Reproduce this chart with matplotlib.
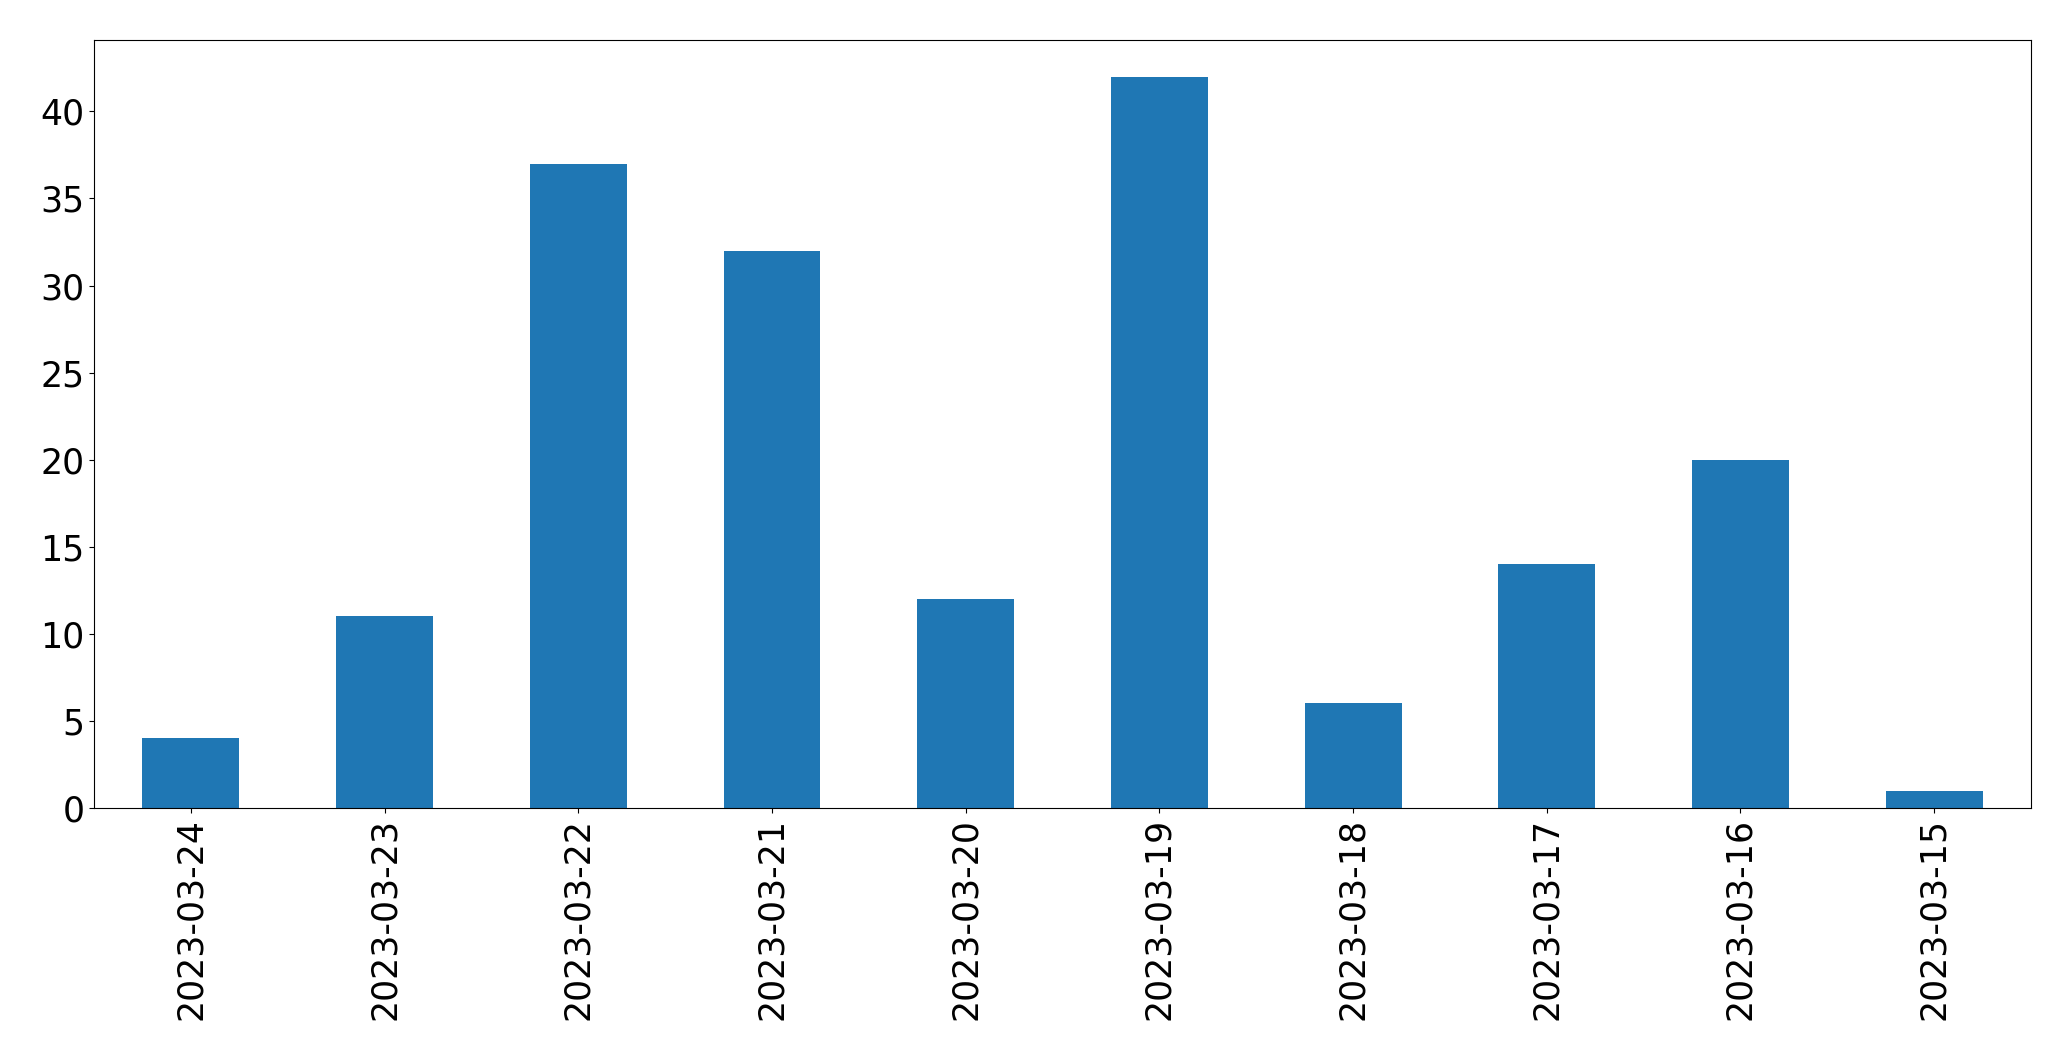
import matplotlib
matplotlib.use("Agg")
import matplotlib.pyplot as plt

dates = ["2023-03-24", "2023-03-23", "2023-03-22", "2023-03-21", "2023-03-20",
         "2023-03-19", "2023-03-18", "2023-03-17", "2023-03-16", "2023-03-15"]
counts = [4, 11, 37, 32, 12, 42, 6, 14, 20, 1]

fig, ax = plt.subplots(figsize=(20.71, 10.61), dpi=100)
fig.subplots_adjust(left=0.0454, right=0.9807, top=0.9623, bottom=0.2385)

x = range(len(dates))
ax.bar(x, counts, width=0.5, color="#1f77b4")
ax.set_xlim(-0.5, len(dates) - 0.5)
ax.set_xticks(list(x))
ax.set_xticklabels(dates, rotation=90)
ax.tick_params(labelsize=25)

fig.savefig("out.png", dpi=100)
